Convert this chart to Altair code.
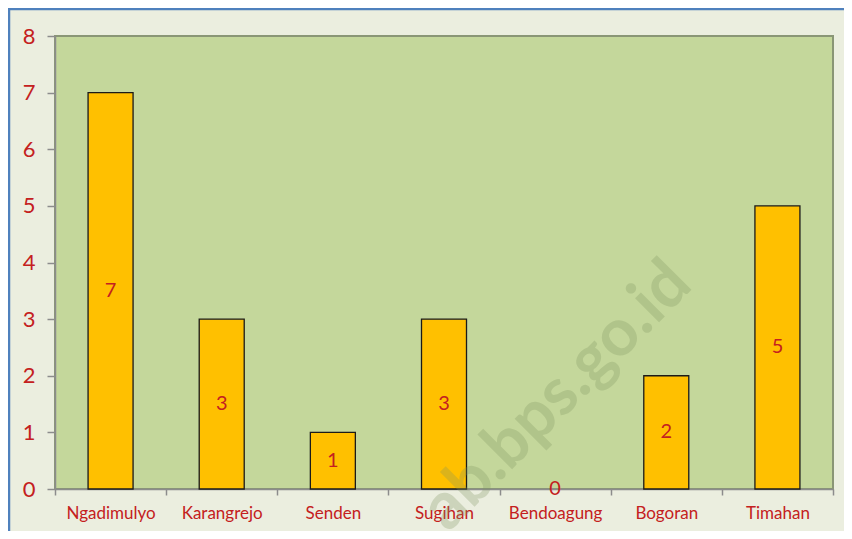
import altair as alt
import pandas as pd

categories = ["Ngadimulyo", "Karangrejo", "Senden", "Sugihan", "Bendoagung", "Bogoran", "Timahan"]
values = [7, 3, 1, 3, 0, 2, 5]
y_ticks = [0, 1, 2, 3, 4, 5, 6, 7, 8]

df = pd.DataFrame({"desa": categories, "jumlah": values})
df["mid"] = df["jumlah"] / 2

RED = "#C42020"
FONT = "Lato"

x = alt.X("desa:N", sort=categories, title=None,
          scale=alt.Scale(paddingInner=0.0, paddingOuter=0.0),
          axis=alt.Axis(labelAngle=0, labelColor=RED, labelFontSize=17, labelFont=FONT,
                        labelPadding=10, tickBand="extent", tickSize=6, tickColor="#8C8C8C",
                        domainColor="#8C8C8C", domainWidth=1.5, tickWidth=1.5))

bars = alt.Chart(df).transform_filter("datum.jumlah > 0").mark_bar(
    size=45, color="#FFC000", stroke="#1A1A1A", strokeWidth=1.3).encode(
    x=x,
    y=alt.Y("jumlah:Q", title=None,
            scale=alt.Scale(domain=[0, 8], nice=False),
            axis=alt.Axis(values=y_ticks, format="d", labelColor=RED, labelFontSize=22, labelFont=FONT,
                          labelPadding=12, tickSize=8, tickColor="#8C8C8C", tickWidth=1.5,
                          domainColor="#8C8C8C", domainWidth=1.5, grid=False)),
)

labels = alt.Chart(df).mark_text(color=RED, fontSize=20, font=FONT, baseline="middle").encode(
    x=alt.X("desa:N", sort=categories),
    y=alt.Y("mid:Q"),
    text=alt.Text("jumlah:Q"),
)

watermark = alt.Chart(pd.DataFrame({"t": ["ab.bps.go.id"]})).mark_text(
    fontSize=66, font=FONT, fontWeight="bold", angle=315, color="#7F9460", opacity=0.28,
    align="center", baseline="middle", clip=False,
).encode(x=alt.value(502), y=alt.value(360), text="t:N")

border_top = alt.Chart(pd.DataFrame({"a": [0]})).mark_rule(color="#4F81BD", strokeWidth=2.5).encode(
    x=alt.value(-47), x2=alt.value(800), y=alt.value(-27))
border_left = alt.Chart(pd.DataFrame({"a": [0]})).mark_rule(color="#4F81BD", strokeWidth=2.5).encode(
    x=alt.value(-46), y=alt.value(-27), y2=alt.value(500))

chart = alt.layer(bars, labels, watermark, border_top, border_left).properties(
    width=778, height=453,
    background="#EBEEDF",
    autosize=alt.AutoSizeParams(type="none"),
    padding={"left": 47, "top": 28, "right": 11, "bottom": 42},
).configure_view(fill="#C4D79B", stroke="#8A9676", strokeWidth=2)

chart.save("out.html", embed_options={"renderer": "svg", "actions": False})
